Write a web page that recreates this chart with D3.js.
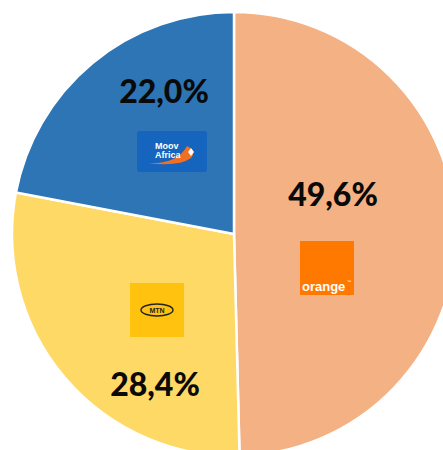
<!DOCTYPE html>
<html>
<head>
<meta charset="utf-8">
<script src="https://cdn.jsdelivr.net/npm/d3@7"></script>
<style>
  html, body { margin: 0; padding: 0; background: #fff; }
  svg { display: block; }
</style>
</head>
<body>
<div id="chart"></div>
<script>
// market share by operator
var operators = ["Orange", "MTN", "Moov Africa"];
var shares = [49.6, 28.4, 22.0];
var shareLabels = ["49,6%", "28,4%", "22,0%"];
var sliceColors = ["#F4B183", "#FFD966", "#2E75B6"];

var width = 443, height = 450;
var cx = 234, cy = 234, radius = 222;

// label spots, hand placed like in the original
var labelPos = {
  "Orange": [333, 206],
  "MTN": [155, 396],
  "Moov Africa": [164, 103]
};

var svg = d3.select("#chart").append("svg")
  .attr("width", width)
  .attr("height", height);

var rows = operators.map(function(o, i) {
  return {name: o, value: shares[i], label: shareLabels[i], color: sliceColors[i]};
});

var pie = d3.pie().sort(null).value(function(d) { return d.value; });
var arc = d3.arc().innerRadius(0).outerRadius(radius);

var g = svg.append("g").attr("transform", "translate(" + cx + "," + cy + ")");

g.selectAll("path.slice")
  .data(pie(rows))
  .enter().append("path")
  .attr("class", "slice")
  .attr("d", arc)
  .attr("fill", function(d) { return d.data.color; })
  .attr("stroke", "#fff")
  .attr("stroke-width", 2.5)
  .attr("stroke-linejoin", "round");

svg.selectAll("text.pct")
  .data(rows)
  .enter().append("text")
  .attr("class", "pct")
  .attr("x", function(d) { return labelPos[d.name][0]; })
  .attr("y", function(d) { return labelPos[d.name][1]; })
  .attr("text-anchor", "middle")
  .attr("font-family", "Lato, 'Liberation Sans', sans-serif")
  .attr("font-weight", "900")
  .attr("font-size", 32)
  .attr("fill", "#0a0a0a")
  .text(function(d) { return d.label; });

// logos
// moov africa
var moov = svg.append("g");
moov.append("rect")
  .attr("x", 137).attr("y", 131).attr("width", 70).attr("height", 41)
  .attr("rx", 3).attr("fill", "#1565BE");
moov.append("path")
  .attr("d", "M146,163 Q177,165 187,146 Q197,151 191,158 Q179,167 146,163 Z")
  .attr("fill", "#F26F21");
moov.append("path")
  .attr("d", "M191,148 L194,152 L191,156 L188,152 Z")
  .attr("fill", "#fff");
moov.append("text")
  .attr("x", 155).attr("y", 149)
  .attr("font-family", "'Liberation Sans', sans-serif")
  .attr("font-weight", "bold").attr("font-size", 9).attr("fill", "#fff")
  .text("Moov");
moov.append("text")
  .attr("x", 155).attr("y", 157.5)
  .attr("font-family", "'Liberation Sans', sans-serif")
  .attr("font-weight", "bold").attr("font-size", 9).attr("fill", "#fff")
  .text("Africa");

// mtn
var mtn = svg.append("g");
mtn.append("rect")
  .attr("x", 130).attr("y", 283).attr("width", 54).attr("height", 54)
  .attr("fill", "#FFC20E");
mtn.append("ellipse")
  .attr("cx", 157).attr("cy", 310).attr("rx", 16).attr("ry", 6)
  .attr("fill", "none").attr("stroke", "#222").attr("stroke-width", 1.4);
mtn.append("text")
  .attr("x", 157).attr("y", 312.5)
  .attr("text-anchor", "middle")
  .attr("font-family", "'Liberation Sans', sans-serif")
  .attr("font-weight", "bold").attr("font-size", 7).attr("fill", "#222")
  .text("MTN");

// orange
var org = svg.append("g");
org.append("rect")
  .attr("x", 300).attr("y", 241).attr("width", 54).attr("height", 54)
  .attr("fill", "#FF7900");
org.append("text")
  .attr("x", 302).attr("y", 290.5)
  .attr("font-family", "'Liberation Sans', sans-serif")
  .attr("font-weight", "bold").attr("font-size", 13).attr("fill", "#fff")
  .text("orange");
org.append("text")
  .attr("x", 347).attr("y", 283)
  .attr("font-family", "'Liberation Sans', sans-serif")
  .attr("font-size", 4).attr("fill", "#fff")
  .text("™");
</script>
</body>
</html>
